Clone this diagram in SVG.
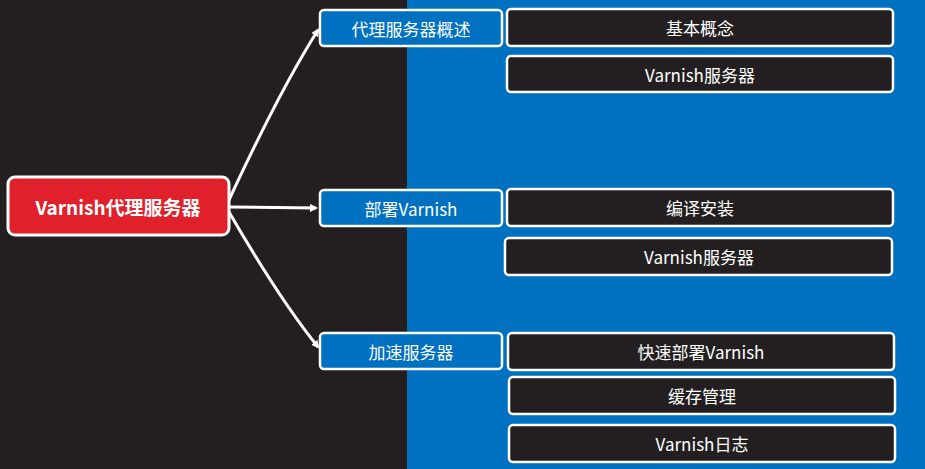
<svg xmlns="http://www.w3.org/2000/svg" width="925" height="469" viewBox="0 0 925 469">
<defs>
<marker id="ah" markerWidth="8" markerHeight="8" refX="6" refY="4" orient="auto" markerUnits="userSpaceOnUse"><path d="M0,0 L8,4 L0,8 z" fill="#fff"/></marker>
<style>
.t{font-family:"Noto Sans CJK SC","Liberation Sans",sans-serif;fill:#fff;text-anchor:middle;dominant-baseline:central}
.mid rect{fill:#0070c0;stroke:#fff;stroke-width:2.5}
.leaf rect{fill:#231f20;stroke:#fff;stroke-width:2.5}
.c{stroke:#fff;stroke-width:3;fill:none;marker-end:url(#ah)}
</style>
</defs>
<rect x="0" y="0" width="407" height="469" fill="#231f20"/>
<rect x="407" y="0" width="518" height="469" fill="#0070c0"/>
<g id="connectors">
<path class="c" d="M229,200 Q280,90 318,30"/>
<path class="c" d="M229,207 L316,208"/>
<path class="c" d="M229,212 Q280,300 318,347"/>
</g>
<g id="root"><rect x="8" y="177" width="221" height="58" rx="7" fill="#e0202a" stroke="#fff" stroke-width="3"/><text class="t" x="118" y="206" font-size="19" font-weight="bold">Varnish代理服务器</text></g>
<g id="m1" class="mid"><rect x="320" y="10" width="182" height="36" rx="4"/><text class="t" x="411" y="28" font-size="17">代理服务器概述</text></g>
<g id="m2" class="mid"><rect x="320" y="190" width="182" height="36" rx="4"/><text class="t" x="411" y="208" font-size="17">部署Varnish</text></g>
<g id="m3" class="mid"><rect x="320" y="333" width="182" height="36" rx="4"/><text class="t" x="411" y="351" font-size="17">加速服务器</text></g>
<g id="l1" class="leaf"><rect x="507" y="9" width="386" height="37" rx="4"/><text class="t" x="700" y="27" font-size="17">基本概念</text></g>
<g id="l2" class="leaf"><rect x="507" y="56" width="386" height="36" rx="4"/><text class="t" x="700" y="74" font-size="17">Varnish服务器</text></g>
<g id="l3" class="leaf"><rect x="507" y="189" width="386" height="37" rx="4"/><text class="t" x="700" y="207" font-size="17">编译安装</text></g>
<g id="l4" class="leaf"><rect x="505" y="238" width="387" height="37" rx="4"/><text class="t" x="699" y="256" font-size="17">Varnish服务器</text></g>
<g id="l5" class="leaf"><rect x="508" y="333" width="386" height="37" rx="4"/><text class="t" x="701" y="351" font-size="17">快速部署Varnish</text></g>
<g id="l6" class="leaf"><rect x="509" y="377" width="386" height="37" rx="4"/><text class="t" x="702" y="395" font-size="17">缓存管理</text></g>
<g id="l7" class="leaf"><rect x="509" y="425" width="386" height="37" rx="4"/><text class="t" x="702" y="443" font-size="17">Varnish日志</text></g>
</svg>
